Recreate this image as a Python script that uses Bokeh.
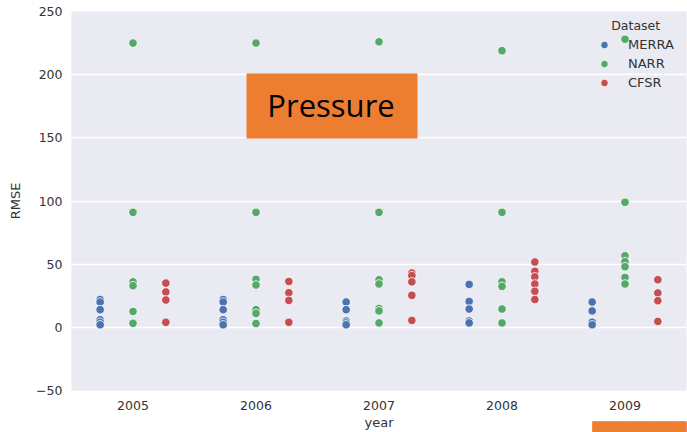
from bokeh.plotting import figure
from bokeh.models import (FactorRange, Range1d, ColumnDataSource, FixedTicker,
                          Legend, LegendItem, BoxAnnotation, Label, Title)
from bokeh.transform import dodge
from bokeh.embed import file_html
from bokeh.resources import INLINE

years = ["2005", "2006", "2007", "2008", "2009"]
datasets = ["MERRA", "NARR", "CFSR"]

merra = {
    "2005": [22, 20, 14, 6, 4, 2],
    "2006": [22, 20, 14, 6, 4, 2],
    "2007": [20, 14, 5, 3.5, 2],
    "2008": [34, 20.5, 14.5, 5, 3.5],
    "2009": [20, 13, 4, 2],
}
narr = {
    "2005": [225, 91, 36, 33, 12.6, 3.2],
    "2006": [225, 91, 38, 33.5, 14, 11, 3],
    "2007": [226, 91, 37.7, 34.3, 15, 13, 3.5],
    "2008": [219, 91, 36, 32.4, 14.5, 3.5],
    "2009": [228, 99, 56.6, 52, 48, 39.5, 34.3],
}
cfsr = {
    "2005": [35, 28, 21.6, 4],
    "2006": [36.3, 27.4, 21.3, 4],
    "2007": [43, 41, 36, 25.3, 5.5],
    "2008": [51.7, 44.3, 40, 34.3, 28.5, 22],
    "2009": [37.7, 27.2, 21.1, 4.7],
}
series = [merra, narr, cfsr]
colors = ["#4C72B0", "#55A868", "#C44E52"]
offsets = [-0.267, 0.0, 0.267]
y_ticks = [-50, 0, 50, 100, 150, 200, 250]

TXT = "#333333"
FONT = "DejaVu Sans"
ORANGE = "#ED7D31"

p = figure(x_range=FactorRange(*years, range_padding=0),
           y_range=Range1d(-50, 250),
           width=687, height=432, output_backend="svg", toolbar_location=None,
           min_border_left=71, min_border_right=1, min_border_top=11,
           min_border_bottom=41)
p.background_fill_color = "#EAEAF2"
p.border_fill_color = "white"
p.outline_line_color = None

p.xgrid.grid_line_color = None
p.ygrid.grid_line_color = "white"
p.ygrid.grid_line_width = 1.5
p.yaxis.ticker = FixedTicker(ticks=y_ticks)
p.yaxis.major_label_overrides = {-50: "\u221250"}

for ax in (p.xaxis[0], p.yaxis[0]):
    ax.axis_line_color = None
    ax.major_tick_line_color = None
    ax.minor_tick_line_color = None
    ax.major_tick_in = 0
    ax.major_tick_out = 0
    ax.major_label_text_font = FONT
    ax.major_label_text_font_size = "12.5px"
    ax.major_label_text_color = TXT
    ax.axis_label_text_font = FONT
    ax.axis_label_text_font_size = "13px"
    ax.axis_label_text_font_style = "normal"
    ax.axis_label_text_color = TXT
p.xaxis.axis_label = "year"
p.yaxis.axis_label = "RMSE"
p.xaxis.major_label_standoff = 10
p.xaxis.axis_label_standoff = 2
p.yaxis.major_label_standoff = 9
p.yaxis.axis_label_standoff = 10

items = []
for name, data, col, off in zip(datasets, series, colors, offsets):
    xs, ys = [], []
    for yr in years:
        for v in data[yr]:
            xs.append(yr)
            ys.append(v)
    src = ColumnDataSource(dict(x=xs, y=ys))
    r = p.scatter(x=dodge("x", off, range=p.x_range), y="y", source=src,
                  size=8.5, fill_color=col, line_color="white", line_width=0.8)
    items.append(LegendItem(label=name, renderers=[r]))

legend = Legend(items=items, location=(523, 298), padding=0, margin=0,
                spacing=0, glyph_height=19, label_height=19, glyph_width=20,
                label_standoff=14, background_fill_alpha=0, border_line_color=None,
                label_text_font=FONT, label_text_font_size="13px",
                label_text_color=TXT)
p.add_layout(legend)

p.add_layout(Label(x=539.7, y=365, x_units="screen", y_units="screen",
                   text="Dataset", text_font=FONT, text_font_size="12.5px",
                   text_color=TXT, text_baseline="middle"))

p.add_layout(BoxAnnotation(left=1.423, right=2.813, bottom=149.5, top=200.9,
                           fill_color=ORANGE, fill_alpha=1, line_color=None))
p.add_layout(Label(x=2.11, y=175.8, text="Pressure", text_align="center",
                   text_baseline="alphabetic", text_font="Open Sans",
                   text_font_size="31px", text_color="black"))

# small orange block cut off at the bottom right (below the axis)
bar = Title(text="\u2588" * 12, align="right", vertical_align="top",
            offset=0, standoff=-21, text_font=FONT, text_font_size="10.2px",
            text_font_style="normal", text_color=ORANGE,
            background_fill_color=ORANGE, background_fill_alpha=1)
p.add_layout(bar, "below")

open("out.html", "w").write(file_html(p, INLINE))
